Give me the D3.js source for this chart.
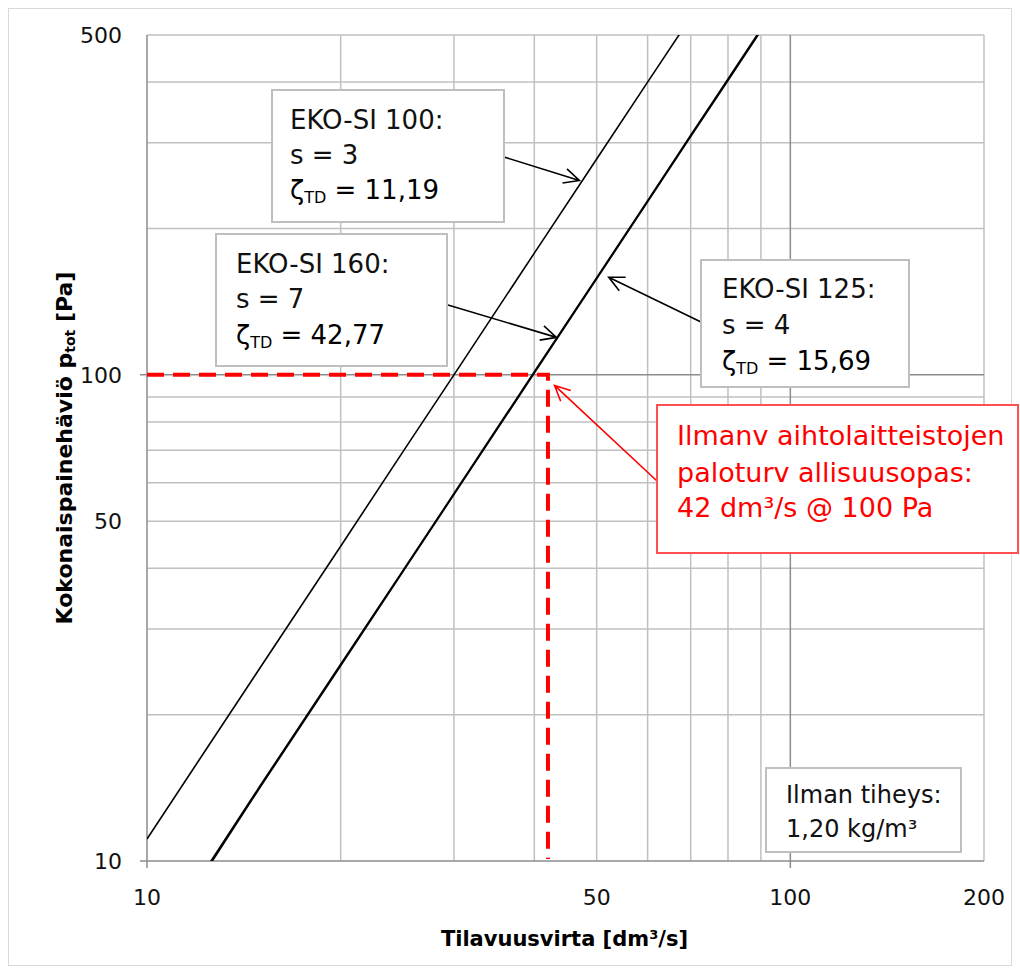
<!DOCTYPE html>
<html>
<head>
<meta charset="utf-8">
<script src="https://cdn.jsdelivr.net/npm/d3@7"></script>
<style>
  body { margin: 0; background: #fff; }
  text { font-family: "DejaVu Sans", sans-serif; }
</style>
</head>
<body>
<div id="chart"></div>
<script>
// flow [dm3/s] and total pressure loss [Pa]
var flow100 = [10, 12, 15, 20, 25, 30, 40, 50, 60, 68];
var pres100 = [11.1, 16, 25, 44.4, 69.5, 100, 178, 278, 400, 513];
var flow125 = [12, 15, 20, 25, 30, 40, 50, 60, 70, 80, 90];
var pres125 = [9.1, 14.3, 25.4, 39.6, 57, 101.5, 158.5, 228, 311, 406, 514];
var flow160 = [12, 15, 20, 25, 30, 40, 50, 60, 70, 80, 90];
var pres160 = [9.0, 14.2, 25.2, 39.4, 56.7, 100.8, 157.5, 227, 309, 403, 510];

// guide value from the fire safety guide
var guideFlow = 42, guidePres = 100;

var xTickLabels = [10, 50, 100, 200];
var yTickLabels = [10, 50, 100, 500];
var xMajor = [10, 100];
var yMajor = [10, 100];
var xMinor = [20, 30, 40, 50, 60, 70, 80, 90, 200];
var yMinor = [20, 30, 40, 50, 60, 70, 80, 90, 200, 300, 400, 500];

var W = 1020, H = 974;
var margin = {top: 35, right: 36, bottom: 113, left: 147};

var svg = d3.select("#chart").append("svg")
    .attr("width", W)
    .attr("height", H);

// outer chart border
svg.append("rect")
    .attr("x", 8.5).attr("y", 8.5)
    .attr("width", W - 17).attr("height", H - 17)
    .attr("fill", "#fff")
    .attr("stroke", "#d9d9d9");

var x = d3.scaleLog().domain([10, 200]).range([margin.left, W - margin.right]);
var y = d3.scaleLog().domain([10, 500]).range([H - margin.bottom, margin.top]);

var g = svg.append("g");

// gridlines
g.selectAll(".vminor").data(xMinor).enter().append("line")
    .attr("x1", d => x(d)).attr("x2", d => x(d))
    .attr("y1", y(10)).attr("y2", y(500))
    .attr("stroke", "#c0c0c0").attr("stroke-width", 1.5);
g.selectAll(".hminor").data(yMinor).enter().append("line")
    .attr("x1", x(10)).attr("x2", x(200))
    .attr("y1", d => y(d)).attr("y2", d => y(d))
    .attr("stroke", "#c0c0c0").attr("stroke-width", 1.5);
g.selectAll(".vmajor").data(xMajor).enter().append("line")
    .attr("x1", d => x(d)).attr("x2", d => x(d))
    .attr("y1", y(10) + 7).attr("y2", y(500))
    .attr("stroke", "#8c8c8c").attr("stroke-width", 1.5);
g.selectAll(".hmajor").data(yMajor).enter().append("line")
    .attr("x1", x(10) - 7).attr("x2", x(200))
    .attr("y1", d => y(d)).attr("y2", d => y(d))
    .attr("stroke", "#8c8c8c").attr("stroke-width", 1.5);

// tick labels
g.selectAll(".xl").data(xTickLabels).enter().append("text")
    .attr("x", d => x(d)).attr("y", y(10) + 44)
    .attr("text-anchor", "middle")
    .attr("font-size", "22px").attr("fill", "#111")
    .text(d => d);
g.selectAll(".yl").data(yTickLabels).enter().append("text")
    .attr("x", x(10) - 25).attr("y", d => y(d) + 8)
    .attr("text-anchor", "end")
    .attr("font-size", "22px").attr("fill", "#111")
    .text(d => d);

// axis titles
svg.append("text")
    .attr("x", (x(10) + x(200)) / 2 - 1).attr("y", 946)
    .attr("text-anchor", "middle")
    .attr("font-size", "21px").attr("font-weight", "bold")
    .text("Tilavuusvirta [dm³/s]");

var yt = svg.append("text")
    .attr("transform", "translate(72," + ((y(10) + y(500)) / 2) + ") rotate(-90)")
    .attr("text-anchor", "middle")
    .attr("font-size", "22px").attr("font-weight", "bold");
yt.append("tspan").text("Kokonaispainehäviö p");
yt.append("tspan").attr("font-size", "14px").attr("dy", 3).text("tot");
yt.append("tspan").attr("dy", -3).text(" [Pa]");

// curves
svg.append("clipPath").attr("id", "plotclip")
  .append("rect")
    .attr("x", x(10)).attr("y", y(500))
    .attr("width", x(200) - x(10)).attr("height", y(10) - y(500));

var line = d3.line().x(d => x(d[0])).y(d => y(d[1]));
var series = [
  d3.zip(flow100, pres100),
  d3.zip(flow125, pres125),
  d3.zip(flow160, pres160)
];
var curves = svg.append("g").attr("clip-path", "url(#plotclip)");
curves.selectAll("path").data(series).enter().append("path")
    .attr("d", line)
    .attr("fill", "none")
    .attr("stroke", "#000")
    .attr("stroke-width", 1.6);

// guide point, red dashed
svg.append("path")
    .attr("d", line([[10, guidePres], [guideFlow, guidePres], [guideFlow, 10.1]]))
    .attr("fill", "none")
    .attr("stroke", "#ff0000")
    .attr("stroke-width", 4)
    .attr("stroke-dasharray", "17,9");

// annotation boxes
function box(bx, by, bw, bh, stroke) {
  svg.append("rect")
      .attr("x", bx).attr("y", by).attr("width", bw).attr("height", bh)
      .attr("fill", "#fff").attr("stroke", stroke).attr("stroke-width", 2);
}

function arrow(x0, y0, tip, color, width) {
  var x1 = x(tip[0]), y1 = y(tip[1]);
  var a = Math.atan2(y1 - y0, x1 - x0), len = 17, spread = 0.45;
  var p = d3.path();
  p.moveTo(x0, y0); p.lineTo(x1, y1);
  p.moveTo(x1 - len * Math.cos(a - spread), y1 - len * Math.sin(a - spread));
  p.lineTo(x1, y1);
  p.lineTo(x1 - len * Math.cos(a + spread), y1 - len * Math.sin(a + spread));
  svg.append("path").attr("d", p.toString())
      .attr("fill", "none").attr("stroke", color).attr("stroke-width", width);
}

function zetaLine(tx, ty, val, size) {
  var t = svg.append("text").attr("x", tx).attr("y", ty).attr("font-size", size + "px");
  t.append("tspan").text("ζ");
  t.append("tspan").attr("font-size", Math.round(size * 0.62) + "px").attr("dy", 4).text("TD");
  t.append("tspan").attr("dy", -4).text(" = " + val);
}

function label(tx, ty, txt, size, color) {
  svg.append("text").attr("x", tx).attr("y", ty)
      .attr("font-size", size + "px").attr("fill", color || "#111").text(txt);
}

arrow(504, 157, [47.0, 251], "#000", 1.6);
arrow(448, 305, [43.3, 119.4], "#000", 1.6);
arrow(701, 322, [52.2, 158.7], "#000", 1.6);
arrow(657, 481, [43.0, 95.1], "#ff0000", 1.6);

box(272, 90, 232, 132, "#bfbfbf");
label(290, 129, "EKO-SI 100:", 26);
label(290, 164, "s = 3", 26);
zetaLine(290, 199, "11,19", 26);

box(216, 234, 231, 132, "#bfbfbf");
label(236, 273, "EKO-SI 160:", 26);
label(236, 308, "s = 7", 26);
zetaLine(236, 344, "42,77", 26);

box(701, 260, 208, 127, "#bfbfbf");
label(722, 298, "EKO-SI 125:", 26);
label(722, 334, "s = 4", 26);
zetaLine(722, 370, "15,69", 26);

box(657, 405, 361, 148, "#ff5050");
label(677, 445, "Ilmanv aihtolaitteistojen", 27, "#ff0000");
label(677, 482, "paloturv allisuusopas:", 27, "#ff0000");
label(677, 517, "42 dm³/s @ 100 Pa", 27, "#ff0000");

box(766, 768, 195, 84, "#bfbfbf");
label(786, 803, "Ilman tiheys:", 24);
label(786, 837, "1,20 kg/m³", 24);
</script>
</body>
</html>
